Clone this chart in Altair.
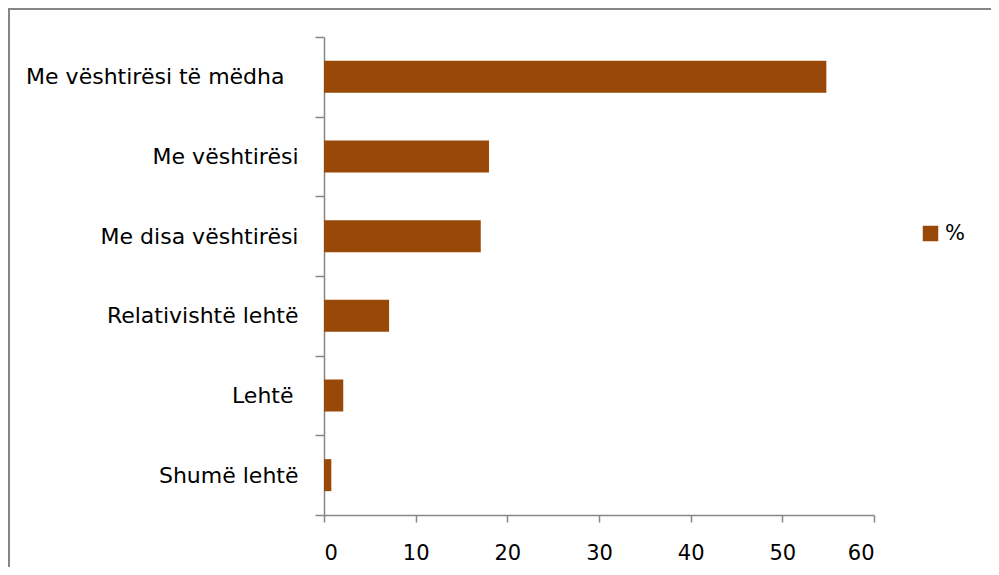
import altair as alt
import pandas as pd

categories = [
    "Me vështirësi të mëdha",
    "Me vështirësi",
    "Me disa vështirësi",
    "Relativishtë lehtë",
    "Lehtë",
    "Shumë lehtë",
]
values = [54.8, 18.0, 17.1, 7.1, 2.1, 0.8]
series = ["%"] * len(categories)
x_ticks = [0, 10, 20, 30, 40, 50, 60]

df = pd.DataFrame({"cat": categories, "val": values, "series": series})

FONT = "DejaVu Sans"
GRAY = "#868686"
BAR = "#984807"

pad_cond = {
    "condition": [
        {"test": "datum.value === 'Me vështirësi të mëdha'", "value": 31},
        {"test": "datum.value === 'Lehtë'", "value": 22},
    ],
    "value": 17,
}

bars = alt.Chart(df).mark_bar(color=BAR, size=32).encode(
    y=alt.Y(
        "cat:N",
        sort=categories,
        title=None,
        scale=alt.Scale(paddingInner=0, paddingOuter=0),
        axis=alt.Axis(
            tickBand="extent",
            domainColor=GRAY,
            domainWidth=1.5,
            tickColor=GRAY,
            tickWidth=1.5,
            tickSize=9,
            labelFont=FONT,
            labelFontSize=22,
            labelColor="#000000",
            labelPadding=pad_cond,
            labelLimit=400,
        ),
    ),
    x=alt.X(
        "val:Q",
        title=None,
        scale=alt.Scale(domain=[0, 60], nice=False),
        axis=alt.Axis(
            values=x_ticks,
            grid=False,
            domainColor=GRAY,
            domainWidth=1.5,
            tickColor=GRAY,
            tickWidth=1.5,
            tickSize=7,
            labelFont=FONT,
            labelFontSize=21,
            labelColor="#000000",
            labelPadding=20,
        ),
    ),
    color=alt.Color(
        "series:N",
        scale=alt.Scale(range=[BAR]),
        legend=alt.Legend(
            title=None,
            orient="none",
            legendX=596,
            legendY=186,
            symbolType="square",
            symbolSize=240,
            symbolStrokeWidth=0,
            labelFont=FONT,
            labelFontSize=21,
            labelColor="#000000",
            labelOffset=4,
            padding=0,
        ),
    ),
)

frame_top = alt.Chart(df).mark_rule(color=GRAY, strokeWidth=2).encode(
    x=alt.value(-316), x2=alt.value(800), y=alt.value(-28)
)
frame_left = alt.Chart(df).mark_rule(color=GRAY, strokeWidth=2).encode(
    x=alt.value(-315), y=alt.value(-29), y2=alt.value(700)
)

chart = (
    alt.layer(frame_top, frame_left, bars)
    .properties(
        width=550,
        height=478,
        padding={"left": 316, "top": 29, "right": 117, "bottom": 52},
        autosize=alt.AutoSizeParams(type="none"),
        background="white",
    )
    .configure_view(stroke=None)
)

chart.save("out.html", embed_options={"renderer": "svg", "actions": False})
